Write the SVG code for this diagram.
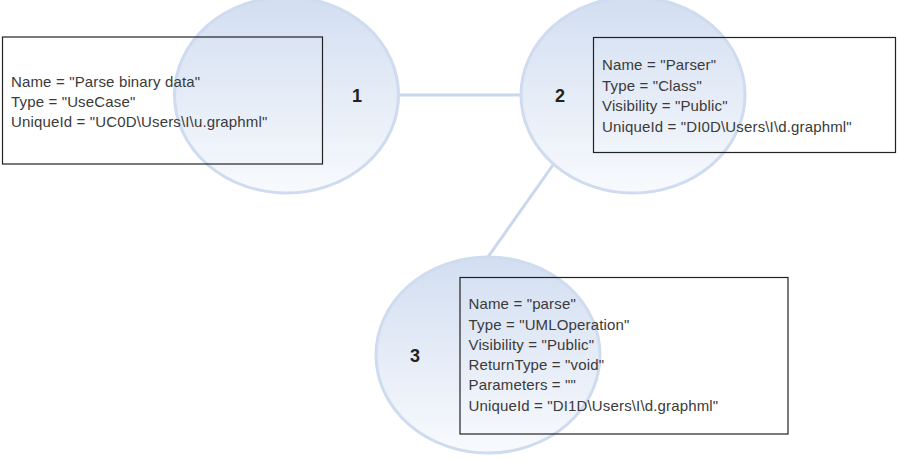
<svg xmlns="http://www.w3.org/2000/svg" width="899" height="460" viewBox="0 0 899 460">
  <defs>
    <linearGradient id="bubble" x1="0" y1="0" x2="0" y2="1">
      <stop offset="0" stop-color="#d2def1"/>
      <stop offset="1" stop-color="#f8fafd"/>
    </linearGradient>
  </defs>
  <style>
    .bubble { fill: url(#bubble); stroke: #cfdbef; stroke-width: 3; }
    .conn { stroke: #cad8ee; stroke-width: 3; fill: none; }
    .box { fill: none; stroke: #222; stroke-width: 1.2; }
    .txt { font-family: "Liberation Sans", Arial, sans-serif; font-size: 15px; letter-spacing: 0.15px; fill: #3a3a3a; }
    .num { font-family: "Liberation Sans", Arial, sans-serif; font-size: 18px; font-weight: bold; fill: #222; text-anchor: middle; }
  </style>
  <rect width="899" height="460" fill="#ffffff"/>
  <g id="connectors">
    <line class="conn" x1="398" y1="95" x2="522" y2="95"/>
    <line class="conn" x1="553" y1="165" x2="488" y2="257"/>
  </g>
  <g id="node1">
    <ellipse class="bubble" cx="286.5" cy="95" rx="112" ry="98"/>
    <text class="num" x="357" y="101.5">1</text>
    <rect class="box" x="2.5" y="37" width="320" height="127"/>
    <text class="txt">
      <tspan x="11" y="87">Name = "Parse binary data"</tspan>
      <tspan x="11" y="107">Type = "UseCase"</tspan>
      <tspan x="11" y="127">UniqueId = "UC0D\Users\I\u.graphml"</tspan>
    </text>
  </g>
  <g id="node2">
    <ellipse class="bubble" cx="633" cy="95" rx="112" ry="98"/>
    <text class="num" x="560" y="101.5">2</text>
    <rect class="box" x="593.5" y="37.5" width="302" height="115"/>
    <text class="txt">
      <tspan x="602" y="70">Name = "Parser"</tspan>
      <tspan x="602" y="90.5">Type = "Class"</tspan>
      <tspan x="602" y="111">Visibility = "Public"</tspan>
      <tspan x="602" y="131.5">UniqueId = "DI0D\Users\I\d.graphml"</tspan>
    </text>
  </g>
  <g id="node3">
    <ellipse class="bubble" cx="488" cy="355" rx="112" ry="98"/>
    <text class="num" x="415" y="361.5">3</text>
    <rect class="box" x="460" y="277.5" width="328" height="156.5"/>
    <text class="txt">
      <tspan x="468.5" y="309">Name = "parse"</tspan>
      <tspan x="468.5" y="329.5">Type = "UMLOperation"</tspan>
      <tspan x="468.5" y="350">Visibility = "Public"</tspan>
      <tspan x="468.5" y="370">ReturnType = "void"</tspan>
      <tspan x="468.5" y="390">Parameters = ""</tspan>
      <tspan x="468.5" y="410.5">UniqueId = "DI1D\Users\I\d.graphml"</tspan>
    </text>
  </g>
</svg>
